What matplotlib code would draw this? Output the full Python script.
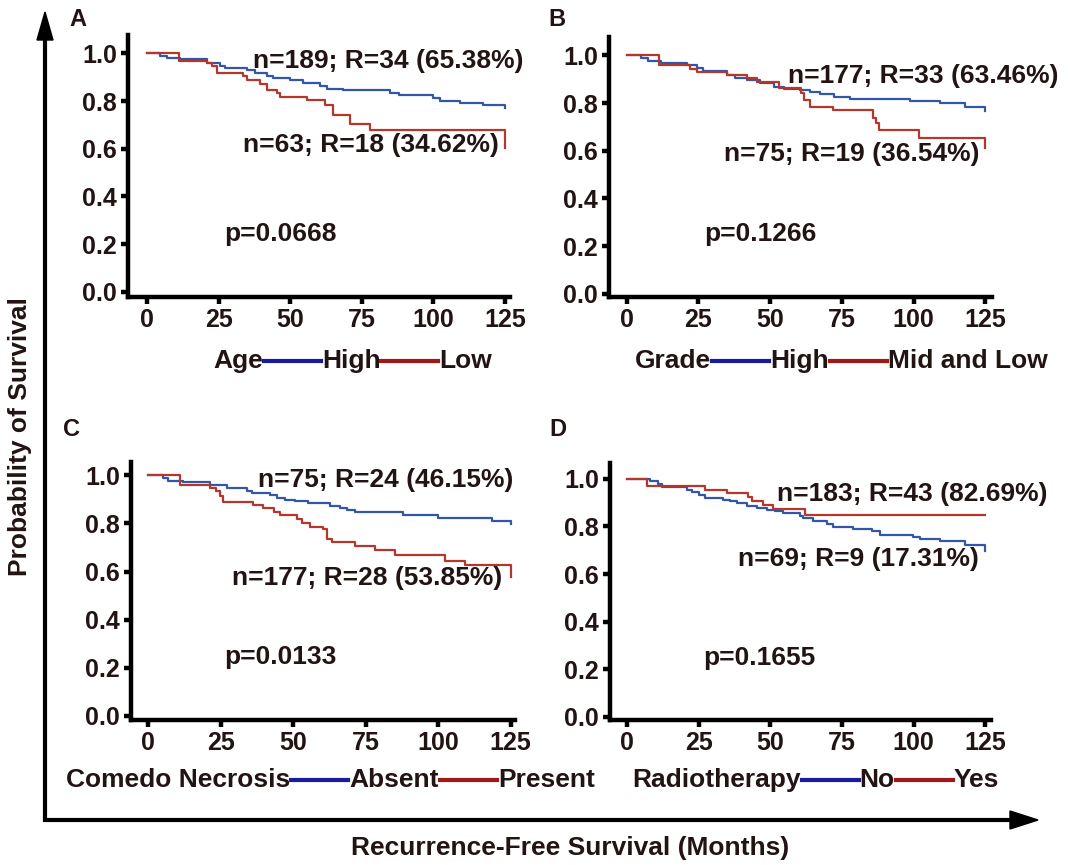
import matplotlib
matplotlib.use("Agg")
import matplotlib.pyplot as plt
from matplotlib.lines import Line2D
from matplotlib.patches import Polygon

# Kaplan-Meier step data (months, survival probability)
age_high_t = [0, 4.5, 6.9, 11.5, 20.8, 25.5, 27.2, 34.8, 37.7, 41.8, 44.1, 49.9, 54.6, 60.4, 62.7, 68.5, 84.8, 87.8, 100, 102.3, 109.3, 117.4, 125]
age_high_s = [1.0, 0.99, 0.982, 0.975, 0.961, 0.947, 0.937, 0.929, 0.919, 0.905, 0.898, 0.887, 0.877, 0.862, 0.852, 0.846, 0.832, 0.824, 0.814, 0.802, 0.793, 0.782, 0.772]
age_low_t = [0, 11.3, 20.8, 22.6, 24.3, 33.4, 34.8, 39.5, 41.8, 45.3, 46.4, 55.8, 62.2, 65.1, 70.9, 77.9, 125]
age_low_s = [1.0, 0.968, 0.96, 0.947, 0.919, 0.905, 0.887, 0.871, 0.848, 0.832, 0.818, 0.804, 0.783, 0.742, 0.702, 0.677, 0.605]

grade_high_t = [0, 5.1, 7.4, 12.1, 20.9, 24.4, 26.7, 34.9, 37.8, 41.9, 46.5, 51.2, 54.7, 60.5, 64.0, 67.5, 72.1, 77.9, 98.8, 109.3, 118.0, 125]
grade_high_s = [1.0, 0.987, 0.978, 0.966, 0.959, 0.948, 0.936, 0.917, 0.906, 0.896, 0.882, 0.869, 0.859, 0.854, 0.848, 0.838, 0.827, 0.817, 0.808, 0.799, 0.785, 0.765]
grade_midlow_t = [0, 11.4, 22.1, 24.4, 34.9, 41.9, 45.3, 53.0, 60.6, 61.8, 64.0, 72.0, 86.0, 87.0, 88.0, 101.8, 125]
grade_midlow_s = [1.0, 0.958, 0.941, 0.929, 0.917, 0.903, 0.888, 0.862, 0.84, 0.812, 0.785, 0.77, 0.738, 0.715, 0.687, 0.652, 0.613]

necrosis_absent_t = [0, 5.1, 6.9, 12.1, 21.3, 27.0, 33.9, 35.7, 42.0, 44.3, 47.2, 50.6, 55.2, 62.6, 66.1, 68.4, 71.3, 87.9, 100.0, 118.5, 125]
necrosis_absent_s = [1.0, 0.988, 0.978, 0.97, 0.96, 0.949, 0.936, 0.928, 0.918, 0.907, 0.898, 0.891, 0.884, 0.874, 0.863, 0.856, 0.849, 0.835, 0.822, 0.81, 0.796]
necrosis_present_t = [0, 10.9, 21.3, 23.5, 24.6, 25.9, 36.2, 39.7, 43.2, 45.4, 51.2, 52.9, 55.8, 60.4, 61.5, 63.3, 71.3, 78.2, 85.1, 102.4, 109.3, 125]
necrosis_present_s = [1.0, 0.958, 0.948, 0.935, 0.915, 0.889, 0.876, 0.862, 0.848, 0.834, 0.817, 0.802, 0.786, 0.775, 0.737, 0.723, 0.705, 0.689, 0.668, 0.644, 0.625, 0.578]

radio_no_t = [0, 7.9, 10.8, 12.0, 20.8, 22.5, 24.9, 27.2, 33.5, 36.0, 38.2, 41.7, 45.2, 48.7, 51.6, 54.5, 60.3, 61.5, 65.0, 69.7, 72.0, 79.0, 85.4, 88.3, 99.9, 102.3, 109.3, 118.0, 125]
radio_no_s = [1.0, 0.99, 0.979, 0.965, 0.955, 0.946, 0.934, 0.92, 0.913, 0.906, 0.899, 0.885, 0.878, 0.871, 0.864, 0.857, 0.846, 0.836, 0.822, 0.812, 0.798, 0.79, 0.78, 0.766, 0.756, 0.748, 0.737, 0.724, 0.695]
radio_yes_t = [0, 7.0, 27.1, 34.7, 42.3, 43.5, 47.3, 51.0, 62.2, 125]
radio_yes_s = [1.0, 0.969, 0.955, 0.941, 0.924, 0.909, 0.892, 0.874, 0.85, 0.85]

panel_letters = ["A", "B", "C", "D"]
variables = ["Age", "Grade", "Comedo Necrosis", "Radiotherapy"]
group_names = [("High", "Low"), ("High", "Mid and Low"), ("Absent", "Present"), ("No", "Yes")]
blue_labels = ["n=189; R=34 (65.38%)", "n=177; R=33 (63.46%)", "n=75; R=24 (46.15%)", "n=69; R=9 (17.31%)"]
red_labels = ["n=63; R=18 (34.62%)", "n=75; R=19 (36.54%)", "n=177; R=28 (53.85%)", "n=183; R=43 (82.69%)"]
p_values = ["p=0.0668", "p=0.1266", "p=0.0133", "p=0.1655"]
curves = [
    ((age_high_t, age_high_s), (age_low_t, age_low_s)),
    ((grade_high_t, grade_high_s), (grade_midlow_t, grade_midlow_s)),
    ((necrosis_absent_t, necrosis_absent_s), (necrosis_present_t, necrosis_present_s)),
    ((radio_no_t, radio_no_s), (radio_yes_t, radio_yes_s)),
]
x_ticks = [0, 25, 50, 75, 100, 125]
y_ticks = [0.0, 0.2, 0.4, 0.6, 0.8, 1.0]

# Layout (pixels in a 1090x865 canvas)
W, H = 1090, 865
INK = "#231414"
BLUE, RED = "#3456a8", "#b3372b"
LEG_BLUE, LEG_RED = "#1a1a9c", "#a01818"

# spine boxes: left, right, top, bottom
boxes = [(128, 510, 35, 297), (609, 992, 37, 297), (131, 515, 462, 720), (610, 991, 463, 720)]
xlims = [(-6.6, 126.7), (-6.1, 127.3), (-6.0, 126.5), (-6.0, 127.0)]
ylims = [(-0.022, 1.077), (-0.014, 1.077), (-0.017, 1.055), (-0.014, 1.067)]
# text positions: (x, y) in data units for blue label, red label, p-value
blue_pos = [(37, 0.97), (56.4, 0.912), (37.7, 0.982), (38.6, 0.663)]
red_pos = [(33.4, 0.615), (34, 0.585), (28.7, 0.571), (52.4, 0.937)]
p_pos = [(27, 0.242), (27, 0.249), (26.1, 0.246), (26.6, 0.246)]
letter_pos = [(78, 20), (557, 20), (72, 430), (558, 430)]
legend_pos = [(213, 361), (635, 361), (66, 780), (632, 780)]

plt.rcParams["font.family"] = ["Liberation Sans", "DejaVu Sans"]
plt.rcParams["font.weight"] = "bold"


def fx(x):
    return x / W


def fy(y):
    return 1 - y / H


fig = plt.figure(figsize=(W / 100, H / 100), dpi=100, facecolor="white")

for i in range(4):
    l, r, t, b = boxes[i]
    ax = fig.add_axes([fx(l), fy(b), (r - l) / W, (b - t) / H])
    (bt, bs), (rt, rs) = curves[i]
    ax.step(bt, bs, where="post", color=BLUE, lw=1.6)
    ax.step(rt, rs, where="post", color=RED, lw=1.6)
    ax.set_xlim(*xlims[i])
    ax.set_ylim(*ylims[i])
    ax.set_xticks(x_ticks)
    ax.set_yticks(y_ticks)
    ax.set_yticklabels([f"{v:.1f}" for v in y_ticks])
    for side in ["top", "right"]:
        ax.spines[side].set_visible(False)
    for side in ["left", "bottom"]:
        ax.spines[side].set_linewidth(3.2)
        ax.spines[side].set_color("black")
    ax.tick_params(direction="out", length=5, width=3.2, labelsize=18, pad=3, labelcolor=INK)
    ax.patch.set_alpha(0)

    kw = dict(fontsize=19, color=INK, va="center", ha="left", clip_on=False)
    ax.text(*blue_pos[i], blue_labels[i], **kw)
    ax.text(*red_pos[i], red_labels[i], **kw)
    ax.text(*p_pos[i], p_values[i], **kw)

    fig.text(fx(letter_pos[i][0]), fy(letter_pos[i][1]), panel_letters[i],
             fontsize=17, color=INK, ha="center", va="center")

# legend rows: variable name, blue line, first group, red line, second group
renderer = fig.canvas.get_renderer()
LINE_LEN = 57
for i in range(4):
    x, y = legend_pos[i]
    items = [variables[i], LEG_BLUE, group_names[i][0], LEG_RED, group_names[i][1]]
    for item in items:
        if item in (LEG_BLUE, LEG_RED):
            fig.add_artist(Line2D([fx(x), fx(x + LINE_LEN)], [fy(y), fy(y)],
                                  transform=fig.transFigure, color=item, lw=3))
            x += LINE_LEN + 1
        else:
            txt = fig.text(fx(x), fy(y), item, fontsize=19, color=INK, ha="left", va="center")
            x += txt.get_window_extent(renderer).width + 1

# outer axis arrows
def arrow(x0, y0, x1, y1, tip):
    fig.add_artist(Line2D([fx(x0), fx(x1)], [fy(y0), fy(y1)], transform=fig.transFigure,
                          color="black", lw=3, solid_capstyle="butt"))
    fig.add_artist(Polygon([(fx(px), fy(py)) for px, py in tip], closed=True,
                           transform=fig.transFigure, color="black"))


arrow(45, 822, 45, 36, [(45, 12), (37, 40), (53, 40)])
arrow(43, 820, 1014, 820, [(1038, 820), (1010, 811), (1010, 829)])

fig.text(fx(20), fy(437), "Probability of Survival", rotation=90, fontsize=19,
         color=INK, ha="center", va="center")
fig.text(fx(570), fy(848), "Recurrence-Free Survival (Months)", fontsize=19,
         color=INK, ha="center", va="center")

fig.savefig("out.png", dpi=100)
